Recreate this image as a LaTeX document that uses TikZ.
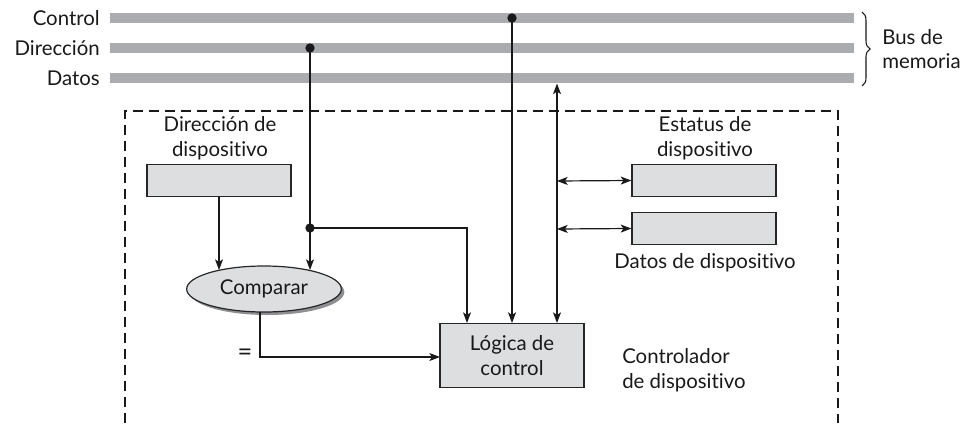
\documentclass[tikz,border=0pt]{standalone}
\usepackage{fontspec}
\setmainfont[Ligatures={NoCommon,NoRare,NoDiscretionary}]{Lato}
\usetikzlibrary{arrows.meta,shapes.geometric,decorations.pathreplacing,calc}
\definecolor{busgray}{HTML}{ABACAF}
\definecolor{boxfill}{HTML}{DDDEE0}
\definecolor{shadowgray}{HTML}{8E8F92}
\begin{document}
\begin{tikzpicture}[x=0.75pt,y=-0.75pt,
  every node/.style={font=\fontsize{15.3}{18.5}\selectfont, text=black!90},
  busline/.style={fill=busgray, draw=none, minimum width=558pt, minimum height=7.5pt, inner sep=0pt},
  graybox/.style={fill=boxfill, draw=black!85, line width=0.9pt, minimum width=108pt, minimum height=23.5pt, inner sep=0pt},
  lbl/.style={align=center, inner sep=0pt},
  conn/.style={draw=black!90, line width=0.9pt},
  arr/.style={conn, -{Stealth[length=8pt,width=6pt,inset=2pt]}},
  arrtwo/.style={conn, {Stealth[length=8pt,width=6pt,inset=2pt]}-{Stealth[length=8pt,width=6pt,inset=2pt]}},
  dotstyle/.style={circle, fill=black!90, inner sep=0pt, minimum size=7pt},
]
\useasboundingbox (0,0) rectangle (967,425);

% bus lines
\node[busline] (busC) at (482,18) {};
\node[busline] (busD) at (482,48) {};
\node[busline] (busT) at (482,78) {};
\node[anchor=east, inner sep=0pt] (lC) at (100,18) {Control};
\node[anchor=east, inner sep=0pt] (lD) at (100,48) {Dirección};
\node[anchor=east, inner sep=0pt] (lT) at (100,78) {Datos};

% brace
\draw[conn, line width=0.8pt, decorate, decoration={brace, amplitude=6pt}] (862,12) -- (862,86);
\node[anchor=west, align=left, inner sep=0pt] (busmem) at (882,49) {Bus de\\memoria};

% dashed controller outline
\draw[conn, line width=0.8pt, dash pattern=on 7.5pt off 4.5pt] (125,423) -- (125,111) -- (838,111) -- (838,423);

% device address
\node[lbl] (dirlbl) at (220,138) {Dirección de\\dispositivo};
\node[graybox] (dirbox) at (219,180.5) {};

% status / data boxes
\node[lbl] (stlbl) at (705,138) {Estatus de\\dispositivo};
\node[graybox] (stbox) at (704,180.5) {};
\node[graybox] (dtbox) at (704,228.5) {};
\node[lbl] (dtlbl) at (705,263) {Datos de dispositivo};

% compare
\node[ellipse, fill=shadowgray, minimum width=116pt, minimum height=34.5pt, inner sep=0pt] (cmpsh) at (267,292) {};
\node[ellipse, fill=boxfill, draw=black!85, line width=0.9pt, minimum width=116pt, minimum height=34.5pt, inner sep=0pt] (cmp) at (264,289) {Comparar};

% logic box
\node[graybox, minimum width=108pt, minimum height=48.5pt, align=center] (logic) at (512,355.5) {Lógica de\\control};
\node[lbl, align=left, anchor=west] (ctrlr) at (622,370) {Controlador\\de dispositivo};
\node[inner sep=0pt, font=\fontsize{19}{20}\selectfont] (eq) at (245,355) {=};

% dots
\node[dotstyle] (dotC) at (512,18) {};
\node[dotstyle] (dotD) at (310,48) {};
\node[dotstyle] (dotJ) at (310,228) {};

% coordinates
\coordinate (cmpA) at (219,270);
\coordinate (cmpB) at (310,270);
\coordinate (lgA) at (467,323);
\coordinate (lgB) at (512,323);
\coordinate (lgC) at (557,323);
\coordinate (datTap) at (557,83.5);
\coordinate (hS) at (557,181);
\coordinate (hT) at (557,229);
\coordinate (cmpOut) at (260,312);
\coordinate (eqCorner) at (260,357);
\coordinate (lgIn) at (440,357);

% connectors
\draw[conn] (dotD.center) -- (dotJ.center);
\draw[arr] (dotJ.center) -- (cmpB);
\draw[arr] (dotJ.center) -| (lgA);
\draw[arr] (dirbox.south) -- (cmpA);
\draw[arr] (dotC.center) -- (lgB);
\draw[arrtwo] (datTap) -- (lgC);
\draw[arrtwo] (hS) -- (stbox.west);
\draw[arrtwo] (hT) -- (dtbox.west);
\draw[arr] (cmpOut) -- (eqCorner) -- (lgIn);
\end{tikzpicture}
\end{document}
